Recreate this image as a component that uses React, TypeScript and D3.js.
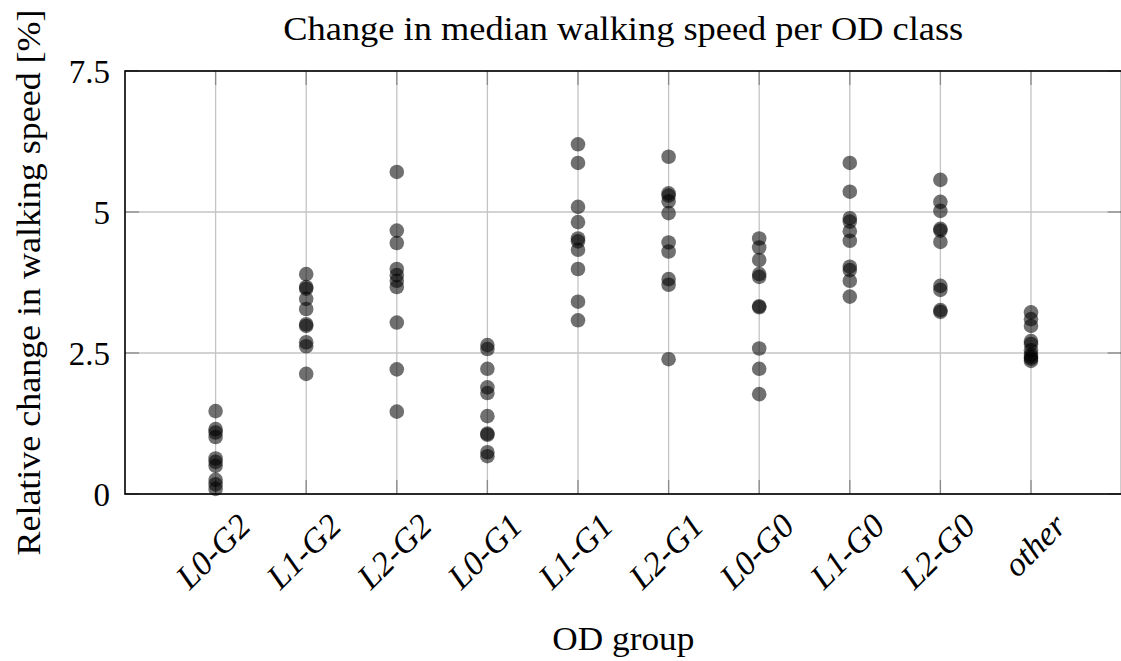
import React from "react";
import * as d3 from "d3";

const categories = ["L0-G2", "L1-G2", "L2-G2", "L0-G1", "L1-G1", "L2-G1", "L0-G0", "L1-G0", "L2-G0", "other"];

const valsL0G2 = [1.47, 1.15, 1.09, 1.01, 0.63, 0.57, 0.5, 0.25, 0.17, 0.09];
const valsL1G2 = [3.9, 3.67, 3.64, 3.46, 3.28, 3.01, 2.98, 2.69, 2.62, 2.13];
const valsL2G2 = [5.71, 4.67, 4.45, 3.99, 3.88, 3.78, 3.67, 3.04, 2.21, 1.46];
const valsL0G1 = [2.64, 2.57, 2.22, 1.89, 1.79, 1.38, 1.07, 1.05, 0.74, 0.67];
const valsL1G1 = [6.2, 5.87, 5.09, 4.82, 4.53, 4.48, 4.33, 3.99, 3.41, 3.08];
const valsL2G1 = [5.98, 5.33, 5.29, 5.19, 4.98, 4.46, 4.3, 3.81, 3.71, 2.39];
const valsL0G0 = [4.53, 4.37, 4.15, 3.9, 3.85, 3.33, 3.31, 2.58, 2.22, 1.77];
const valsL1G0 = [5.87, 5.36, 4.89, 4.83, 4.66, 4.49, 4.03, 3.97, 3.78, 3.5];
const valsL2G0 = [5.57, 5.18, 5.02, 4.7, 4.67, 4.47, 3.69, 3.62, 3.26, 3.23];
const valsOther = [3.22, 3.1, 2.98, 2.71, 2.66, 2.55, 2.47, 2.43, 2.4, 2.36];

const seriesValues = [valsL0G2, valsL1G2, valsL2G2, valsL0G1, valsL1G1, valsL2G1, valsL0G0, valsL1G0, valsL2G0, valsOther];

const yTicks = [0, 2.5, 5, 7.5];
const yTickLabels = ["0", "2.5", "5", "7.5"];

const titleText = "Change in median walking speed per OD class";
const xLabelText = "OD group";
const yLabelText = "Relative change in walking speed [%]";

export default function App() {
  const W = 1121;
  const H = 661;
  const left = 125;
  const right = 1121.6;
  const top = 71;
  const bottom = 494;
  const x = d3.scaleLinear().domain([-1, categories.length]).range([left, right]);
  const y = d3.scaleLinear().domain([0, 7.5]).range([bottom, top]);
  const font = "'Liberation Serif', 'Times New Roman', serif";
  const tickLen = 14;
  const gridColor = "#c4c4c4";
  const tickColor = "#8a8a8a";

  const points: { cx: number; cy: number; key: string }[] = [];
  seriesValues.forEach((vals, i) => {
    vals.forEach((v, j) => points.push({ cx: x(i), cy: y(v), key: `${i}-${j}` }));
  });

  return (
    <svg width={W} height={H} style={{ position: "absolute", left: 0, top: 0, background: "#fff" }}>
      <rect x={0} y={0} width={W} height={H} fill="#fff" />
      {/* grid */}
      {categories.map((c, i) => (
        <line key={"vg" + c} x1={x(i)} x2={x(i)} y1={top} y2={bottom} stroke={gridColor} strokeWidth={1.3} />
      ))}
      {yTicks.map((t) => (
        <line key={"hg" + t} x1={left} x2={right} y1={y(t)} y2={y(t)} stroke={gridColor} strokeWidth={1.3} />
      ))}
      {/* ticks */}
      {categories.map((c, i) => (
        <g key={"xt" + c}>
          <line x1={x(i)} x2={x(i)} y1={bottom} y2={bottom - tickLen} stroke={tickColor} strokeWidth={1.3} />
          <line x1={x(i)} x2={x(i)} y1={top} y2={top + tickLen} stroke={tickColor} strokeWidth={1.3} />
        </g>
      ))}
      {yTicks.map((t) => (
        <g key={"yt" + t}>
          <line x1={left} x2={left + tickLen} y1={y(t)} y2={y(t)} stroke={tickColor} strokeWidth={1.3} />
          <line x1={right - tickLen} x2={right} y1={y(t)} y2={y(t)} stroke={tickColor} strokeWidth={1.3} />
        </g>
      ))}
      {/* points */}
      {points.map((p) => (
        <circle key={p.key} cx={p.cx} cy={p.cy} r={7.3} fill="#000" fillOpacity={0.56} />
      ))}
      {/* frame */}
      <rect x={left} y={top} width={right - left} height={bottom - top} fill="none" stroke="#000" strokeWidth={1.6} />
      {/* y tick labels */}
      {yTicks.map((t, i) => (
        <text key={"yl" + t} x={110} y={y(t) + 12} textAnchor="end" fontFamily={font} fontSize={33} fill="#000">
          {yTickLabels[i]}
        </text>
      ))}
      {/* x tick labels */}
      {categories.map((c, i) => (
        <text
          key={"xl" + c}
          transform={`translate(${x(i) + 37},${528}) rotate(-45)`}
          textAnchor="end"
          fontFamily={font}
          fontStyle="italic"
          fontSize={34}
          fill="#000"
        >
          {c}
        </text>
      ))}
      {/* title */}
      <text x={(left + right) / 2} y={40} textAnchor="middle" fontFamily={font} fontSize={33} textLength={680} lengthAdjust="spacingAndGlyphs" fill="#000">
        {titleText}
      </text>
      {/* x label */}
      <text x={(left + right) / 2} y={650} textAnchor="middle" fontFamily={font} fontSize={33} textLength={142} lengthAdjust="spacingAndGlyphs" fill="#000">
        {xLabelText}
      </text>
      {/* y label */}
      <text
        transform={`translate(40,${(top + bottom) / 2}) rotate(-90)`}
        textAnchor="middle"
        fontFamily={font}
        fontSize={33}
        textLength={546}
        lengthAdjust="spacingAndGlyphs"
        fill="#000"
      >
        {yLabelText}
      </text>
    </svg>
  );
}
